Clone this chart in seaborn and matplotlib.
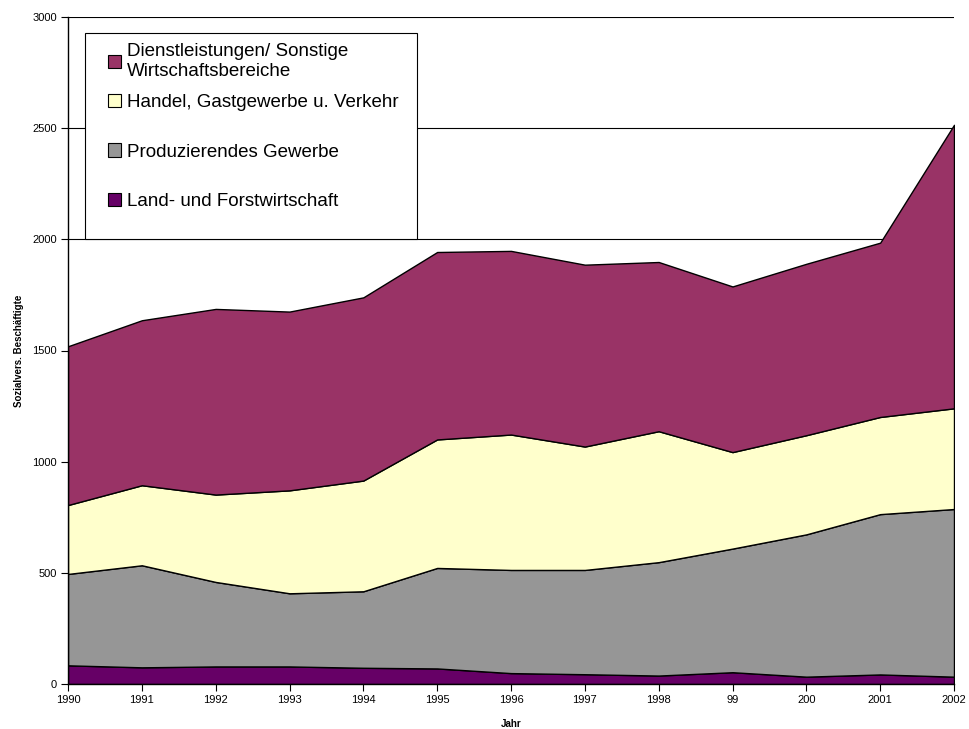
import numpy as np
import matplotlib
matplotlib.use("Agg")
import matplotlib.pyplot as plt
from matplotlib.patches import Patch, Rectangle
import seaborn as sns

# categories as labelled on the x axis (typos kept as in the source chart)
years = ['1990', '1991', '1992', '1993', '1994', '1995', '1996',
         '1997', '1998', '99', '200', '2001', '2002']

# employees per sector (read from the stacked areas)
land = [84, 75, 79, 79, 73, 70, 49, 44, 38, 53, 33, 43, 33]
produz = [411, 459, 380, 329, 344, 452, 464, 469, 510, 556, 640, 721, 754]
handel = [310, 360, 393, 463, 498, 578, 609, 555, 589, 434, 446, 437, 453]
dienst = [714, 742, 835, 804, 824, 843, 826, 818, 761, 745, 771, 784, 1275]

series_names = ['Land- und Forstwirtschaft',
                'Produzierendes Gewerbe',
                'Handel, Gastgewerbe u. Verkehr',
                'Dienstleistungen/ Sonstige\nWirtschaftsbereiche']
colors = ['#660066', '#969696', '#FFFFCC', '#993366']

sns.set_theme(style='white')
plt.rcParams['font.family'] = ['Liberation Sans', 'DejaVu Sans']
plt.rcParams['text.color'] = 'black'
plt.rcParams['axes.labelcolor'] = 'black'
plt.rcParams['xtick.color'] = 'black'
plt.rcParams['ytick.color'] = 'black'

W, H = 969, 729
fig = plt.figure(figsize=(W / 100, H / 100), dpi=100)
ax = fig.add_axes([68 / W, 1 - 684 / H, 886 / W, 667 / H])

x = np.arange(len(years))
ax.stackplot(x, land, produz, handel, dienst, colors=colors,
             edgecolor='black', linewidth=1.0, zorder=2)

# horizontal gridlines behind the areas
for yv in range(500, 3001, 500):
    ax.axhline(yv, color='black', linewidth=0.8, zorder=1)

ax.set_xlim(0, len(years) - 1)
ax.set_ylim(0, 3000)
ax.set_xticks(x)
ax.set_xticklabels(years)
ax.set_yticks(range(0, 3001, 500))

for side in ['top', 'right']:
    ax.spines[side].set_visible(False)
for side in ['left', 'bottom']:
    ax.spines[side].set_color('black')
    ax.spines[side].set_linewidth(1.0)

ax.tick_params(axis='both', direction='out', length=5, width=0.8,
               labelsize=8, pad=3, bottom=True, left=True)
ax.set_xlabel('Jahr', fontsize=7, fontweight='bold', labelpad=10)
ax.set_ylabel('Sozialvers. Beschäftigte', fontsize=7, fontweight='bold',
              labelpad=6)

# legend box (Excel-style: white, square, black border)
box = Rectangle((84.5 / W, 1 - 238.5 / H), 332.5 / W, 205.5 / H,
                transform=fig.transFigure, facecolor='white',
                edgecolor='black', linewidth=0.8, zorder=4, clip_on=False)
ax.add_patch(box)

handles = [Patch(facecolor=c, edgecolor='black', linewidth=0.8)
           for c in colors]
leg_kw = dict(fontsize=13.5, frameon=False, handlelength=0.72,
              handleheight=0.72, handletextpad=0.3, borderpad=0,
              borderaxespad=0, loc='center left',
              bbox_transform=fig.transFigure)

# first entry has a two-line label and sits closer to the others
leg_top = ax.legend([handles[3]], [series_names[3]],
                    bbox_to_anchor=(107.5 / W, 1 - 61.5 / H), **leg_kw)
leg_top.set_zorder(5)
ax.add_artist(leg_top)

leg_rest = ax.legend(handles[2::-1], series_names[2::-1],
                     bbox_to_anchor=(107.5 / W, 1 - 152 / H),
                     labelspacing=1.71, **leg_kw)
leg_rest.set_zorder(5)

fig.savefig('out.png', dpi=100)
